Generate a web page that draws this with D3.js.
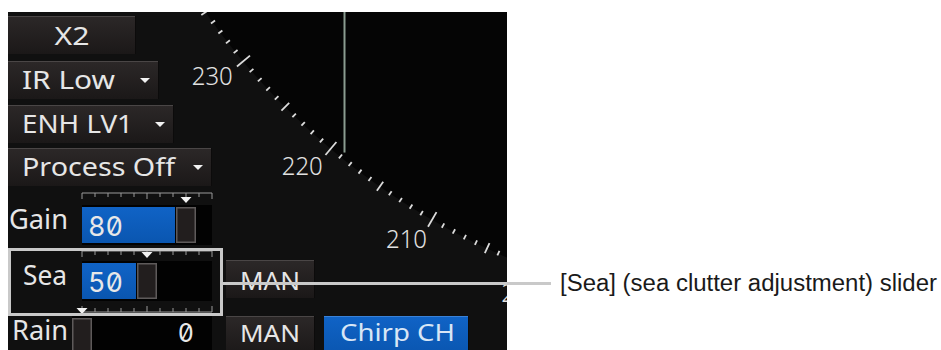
<!DOCTYPE html>
<html><head><meta charset="utf-8">
<script src="https://cdn.jsdelivr.net/npm/d3@7/dist/d3.min.js"></script>
<style>html,body{margin:0;padding:0;background:#fff;overflow:hidden}</style>
</head><body>
<svg id="c" width="941" height="350"></svg>
<script>
// ---------- data ----------
const menuLabels = ["X2", "IR Low", "ENH LV1", "Process Off"];
const menuDropdown = [false, true, true, true];
const sliderNames = ["Gain", "Sea", "Rain"];
const sliderValues = [80, 50, 0];
const sliderTickValues = [0, 10, 20, 30, 40, 50, 60, 70, 80, 90, 100];
const bearingLabels = [230, 220, 210, 200];
const bearingRange = [180, 262];
const modeLabels = ["MAN", "MAN"];
const chirpLabel = "Chirp CH";
const calloutText = "[Sea] (sea clutter adjustment) slider";

// ---------- layout ----------
const svg = d3.select("#c");
const P = {x0: 8, y0: 12, x1: 507, y1: 350};
const defs = svg.append("defs");
defs.append("clipPath").attr("id", "pc").append("rect")
  .attr("x", P.x0).attr("y", P.y0).attr("width", P.x1 - P.x0).attr("height", P.y1 - P.y0);
function grad(id, a, b) {
  const g = defs.append("linearGradient").attr("id", id).attr("x1", 0).attr("y1", 0).attr("x2", 0).attr("y2", 1);
  g.append("stop").attr("offset", "0%").attr("stop-color", a);
  g.append("stop").attr("offset", "100%").attr("stop-color", b);
}
grad("btn", "#2c2828", "#1b1818");
grad("blue", "#1063c6", "#0a56b0");

const panel = svg.append("g").attr("clip-path", "url(#pc)");
panel.append("rect").attr("x", P.x0).attr("y", P.y0).attr("width", P.x1 - P.x0).attr("height", P.y1 - P.y0).attr("fill", "#101010");

// ---------- radar ring ----------
const ring = {cx: 787, cy: -395, r: 710};
const ang = d3.scaleLinear().domain([0, 360]).range([0, 2 * Math.PI]);
const pt = (b, r) => [ring.cx + r * Math.sin(ang(b)), ring.cy - r * Math.cos(ang(b))];
panel.append("circle").attr("cx", ring.cx).attr("cy", ring.cy).attr("r", ring.r).attr("fill", "#050505");

const ticks = d3.range(bearingRange[0], bearingRange[1] + 1);
panel.append("g").selectAll("line").data(ticks).join("line")
  .each(function(b) {
    const inn = b % 10 === 0 ? 9 : (b % 5 === 0 ? 6 : 3);
    const out = b % 10 === 0 ? 8 : (b % 5 === 0 ? 5 : 2);
    const a = pt(b, ring.r - inn), c = pt(b, ring.r + out);
    d3.select(this).attr("x1", a[0]).attr("y1", a[1]).attr("x2", c[0]).attr("y2", c[1]);
  })
  .attr("stroke", "#dcdcdc").attr("stroke-width", 1.8);

panel.append("g").selectAll("text").data(bearingLabels).join("text")
  .attr("x", b => pt(b, ring.r + 20)[0] + 5)
  .attr("y", b => pt(b, ring.r + 20)[1] + 11)
  .attr("text-anchor", "end")
  .attr("font-family", "'Noto Sans', sans-serif").attr("font-weight", 300)
  .attr("font-size", 25).attr("fill", "#e2e2e2")
  .attr("textLength", 41).attr("lengthAdjust", "spacingAndGlyphs")
  .text(d => d);

// vertical cursor line
const lineX = 344.5;
const lineEnd = ring.cy + Math.sqrt((ring.r - 6) ** 2 - (lineX - ring.cx) ** 2);
panel.append("line").attr("x1", lineX).attr("x2", lineX).attr("y1", P.y0).attr("y2", lineEnd)
  .attr("stroke", "#8a9c90").attr("stroke-width", 2);

// ---------- buttons ----------
function button(g, x, y, w, h, fill, top) {
  g.append("rect").attr("x", x).attr("y", y).attr("width", w).attr("height", h).attr("fill", fill);
  g.append("line").attr("x1", x).attr("x2", x + w).attr("y1", y + 0.5).attr("y2", y + 0.5).attr("stroke", top).attr("stroke-width", 1);
  g.append("line").attr("x1", x + w - 0.5).attr("x2", x + w - 0.5).attr("y1", y).attr("y2", y + h).attr("stroke", "#0c0b0b").attr("stroke-width", 1);
}
function tri(g, cx, y, w, h) {
  g.append("path").attr("d", `M${cx - w / 2},${y}L${cx + w / 2},${y}L${cx},${y + h}Z`).attr("fill", "#f2f2f2");
}
const uiFont = "'Noto Sans', sans-serif";
const menuTop = [16, 61, 105, 148];
const menuRight = [136, 159, 174, 212];
const menuTextW = [35, 93, 111, 153];
const menuBase = [45, 89, 133, 176];
const mg = panel.append("g");
menuLabels.forEach((lab, i) => {
  button(mg, P.x0, menuTop[i], menuRight[i] - P.x0, 38, "url(#btn)", "#4a4646");
  const t = mg.append("text").attr("y", menuBase[i]).attr("font-family", uiFont).attr("font-size", 26)
    .attr("fill", "#e6e6e6").attr("textLength", menuTextW[i]).attr("lengthAdjust", "spacingAndGlyphs").text(lab);
  if (menuDropdown[i]) {
    t.attr("x", 22);
    tri(mg, menuRight[i] - 14, menuTop[i] + 17, 10, 5);
  } else {
    t.attr("x", (P.x0 + menuRight[i]) / 2).attr("text-anchor", "middle");
  }
});

// ---------- sliders ----------
const sx = d3.scaleLinear().domain([0, 100]).range([82, 212]);
const barTop = [207, 263, 318];
const barH = [36, 36, 40];
const scaleY = [193, 251, 312];
const scaleDir = [1, 1, -1];
const triY = [197, 252, 308];
const labelX = [9, 23, 12];
const labelW = [59, 44, 56];
const labelBase = [229, 285, 340];
const valBase = [236, 292, 342];
const sg = panel.append("g");
sliderNames.forEach((name, i) => {
  const v = sliderValues[i];
  const hx = sx(v) - 10;
  const trackX = Math.min(sx(0), hx);
  sg.append("rect").attr("x", trackX).attr("y", barTop[i] - 2).attr("width", sx(100) - trackX).attr("height", barH[i] + 4).attr("fill", "#020202");
  sg.append("line").attr("x1", sx(0)).attr("x2", sx(100)).attr("y1", scaleY[i]).attr("y2", scaleY[i])
    .attr("stroke", "#9a9a9a").attr("stroke-width", 1);
  sg.append("g").selectAll("line").data(sliderTickValues).join("line")
    .attr("x1", d => sx(d)).attr("x2", d => sx(d))
    .attr("y1", scaleY[i])
    .attr("y2", d => scaleY[i] + scaleDir[i] * (d % 50 === 0 ? 6 : 4))
    .attr("stroke", "#9a9a9a").attr("stroke-width", 1);
  tri(sg, sx(v), triY[i], 11, 6);
  if (hx - 1 > sx(0)) {
    sg.append("rect").attr("x", sx(0)).attr("y", barTop[i]).attr("width", hx - 1 - sx(0)).attr("height", barH[i]).attr("fill", "url(#blue)");
  }
  sg.append("rect").attr("x", hx + 0.75).attr("y", barTop[i] + 0.75).attr("width", 18.5).attr("height", barH[i] - 1.5)
    .attr("fill", "#221e1e").attr("stroke", "#5e5a5a").attr("stroke-width", 1.5);
  sg.append("text").attr("x", labelX[i]).attr("y", labelBase[i]).attr("font-family", uiFont).attr("font-size", 27)
    .attr("fill", "#e6e6e6").attr("textLength", labelW[i]).attr("lengthAdjust", "spacingAndGlyphs").text(name);
  const vt = sg.append("text").attr("y", valBase[i]).attr("font-family", "Inter, 'DejaVu Sans Mono', monospace")
    .attr("font-size", 27).attr("fill", "#e8e8e8").style("font-feature-settings", "'zero' 1, 'tnum' 1").text(v);
  if (v > 0) vt.attr("x", 88); else vt.attr("x", 194).attr("text-anchor", "end").attr("font-size", 25);
});

// ---------- MAN / Chirp buttons ----------
const bg = panel.append("g");
const manTop = [260, 316];
const manBase = [290, 342];
modeLabels.forEach((lab, i) => {
  button(bg, 226, manTop[i], 89, 38, "url(#btn)", "#4a4646");
  bg.append("text").attr("x", 240).attr("y", manBase[i]).attr("font-family", uiFont).attr("font-size", i ? 24 : 26)
    .attr("fill", "#e6e6e6").attr("textLength", 60).attr("lengthAdjust", "spacingAndGlyphs").text(lab);
});
button(bg, 324, 316, 145, 38, "url(#blue)", "#3a82d8");
bg.append("text").attr("x", 340).attr("y", 341).attr("font-family", uiFont).attr("font-size", 23)
  .attr("fill", "#d8e6f6").attr("textLength", 115).attr("lengthAdjust", "spacingAndGlyphs").text(chirpLabel);

// ---------- highlight & callout ----------
svg.append("rect").attr("x", 9.5).attr("y", 249.5).attr("width", 212).attr("height", 65)
  .attr("fill", "none").attr("stroke", "#c9c9c9").attr("stroke-width", 3);
svg.append("line").attr("x1", 223).attr("x2", 551).attr("y1", 283.5).attr("y2", 283.5)
  .attr("stroke", "#c9c9c9").attr("stroke-width", 3);
svg.append("text").attr("x", 560).attr("y", 291).attr("font-family", "'Liberation Sans', Arial, sans-serif")
  .attr("font-size", 23).attr("fill", "#1a1a1a").attr("textLength", 377).attr("lengthAdjust", "spacingAndGlyphs")
  .text(calloutText);
</script>
</body></html>
